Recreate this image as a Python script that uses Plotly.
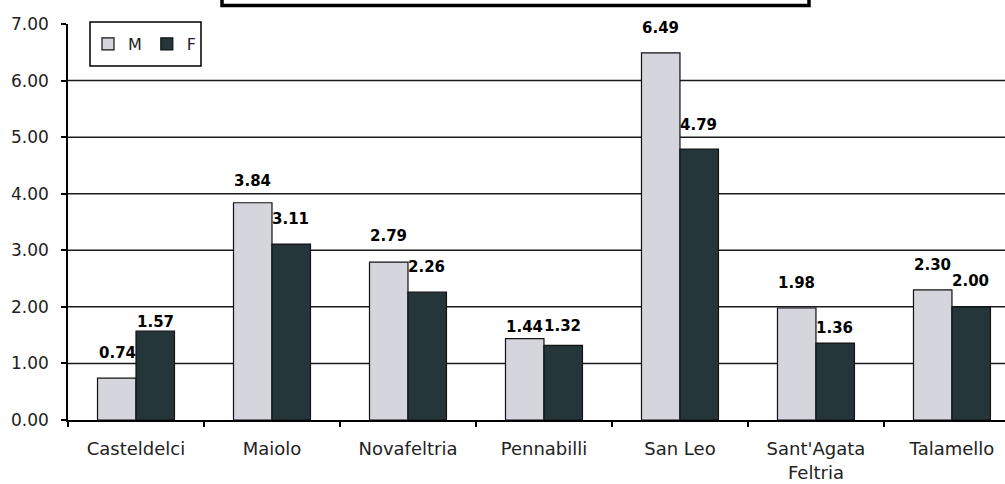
import plotly.graph_objects as go

categories = ["Casteldelci", "Maiolo", "Novafeltria", "Pennabilli", "San Leo", "Sant'Agata<br>Feltria", "Talamello"]
m_values = [0.74, 3.84, 2.79, 1.44, 6.49, 1.98, 2.30]
f_values = [1.57, 3.11, 2.26, 1.32, 4.79, 1.36, 2.00]
y_ticks = [0, 1, 2, 3, 4, 5, 6, 7]

# label vertical offsets (px above bar top), style only
m_label_dy = [25, 22, 26, 12, 25, 25, 25]
f_label_dy = [9, 25, 25, 19, 24, 15, 26]

M_COLOR = "#D5D5DD"
F_COLOR = "#24363A"
FONT = "DejaVu Sans"

PLOT_L, PLOT_T, W, H, PLOT_B = 68, 24, 1005, 484, 64
PW = W - PLOT_L
PH = H - PLOT_T - PLOT_B


def px(xp):
    return (xp - PLOT_L) / PW


def py(yp):
    return (H - PLOT_B - yp) / PH


fig = go.Figure()
fig.add_trace(go.Bar(name="M", x=categories, y=m_values, marker=dict(color=M_COLOR, line=dict(color="#111", width=1.2))))
fig.add_trace(go.Bar(name="F", x=categories, y=f_values, marker=dict(color=F_COLOR, line=dict(color="#111", width=1.2))))

annotations = []
for c, v, dy in zip(categories, m_values, m_label_dy):
    annotations.append(dict(x=c, y=v, xref="x", yref="y", text=f"{v:.2f}", showarrow=False,
                            xshift=-19, yshift=dy, yanchor="middle",
                            font=dict(family=FONT, size=15, color="#000", weight="bold")))
for c, v, dy in zip(categories, f_values, f_label_dy):
    annotations.append(dict(x=c, y=v, xref="x", yref="y", text=f"{v:.2f}", showarrow=False,
                            xshift=19, yshift=dy, yanchor="middle",
                            font=dict(family=FONT, size=15, color="#000", weight="bold")))

shapes = []
for t in y_ticks[1:-1]:
    shapes.append(dict(type="line", xref="paper", yref="y", x0=0, x1=1, y0=t, y1=t,
                       line=dict(color="#1a1a1a", width=1.5), layer="below"))
# title frame (empty box partly above the page)
shapes.append(dict(type="rect", xref="paper", yref="paper", x0=px(222), x1=px(809), y0=py(5.5), y1=py(-20),
                   line=dict(color="black", width=3.5), fillcolor="rgba(0,0,0,0)"))
# legend frame
shapes.append(dict(type="rect", xref="paper", yref="paper", x0=px(90), x1=px(201), y0=py(66), y1=py(22),
                   line=dict(color="black", width=1.5), fillcolor="white", layer="below"))

fig.update_layout(
    width=W, height=H,
    margin=dict(l=PLOT_L, r=0, t=PLOT_T, b=PLOT_B, autoexpand=False),
    paper_bgcolor="white", plot_bgcolor="white",
    barmode="group", bargap=0.434, bargroupgap=0,
    font=dict(family=FONT, size=15, color="#222"),
    showlegend=True,
    legend=dict(orientation="h", x=px(88), y=py(44), xanchor="left", yanchor="middle",
                borderwidth=0, bgcolor="rgba(0,0,0,0)",
                font=dict(family=FONT, size=16, color="#222"), traceorder="normal",
                itemwidth=30),
    annotations=annotations,
    shapes=shapes,
)
fig.update_xaxes(
    type="category", range=[-0.5, 6.39], showgrid=False, automargin=False,
    showline=True, linecolor="black", linewidth=1.5,
    ticks="outside", tickson="boundaries", ticklen=5, tickcolor="black", tickwidth=1.5,
    tickfont=dict(family=FONT, size=18, color="#222"), ticklabelstandoff=12,
)
fig.update_yaxes(
    range=[0, 7], tickvals=y_ticks, ticktext=[f"{t:.2f}" for t in y_ticks],
    showgrid=False, zeroline=False, automargin=False,
    showline=True, linecolor="black", linewidth=1.5,
    ticks="outside", ticklen=5, tickcolor="black", tickwidth=1.5,
    tickfont=dict(family=FONT, size=17, color="#222"), ticklabelstandoff=9,
)

fig.write_html("out.html", config={"displayModeBar": False},
               post_script="document.body.style.margin='0';document.body.style.overflow='hidden';")
